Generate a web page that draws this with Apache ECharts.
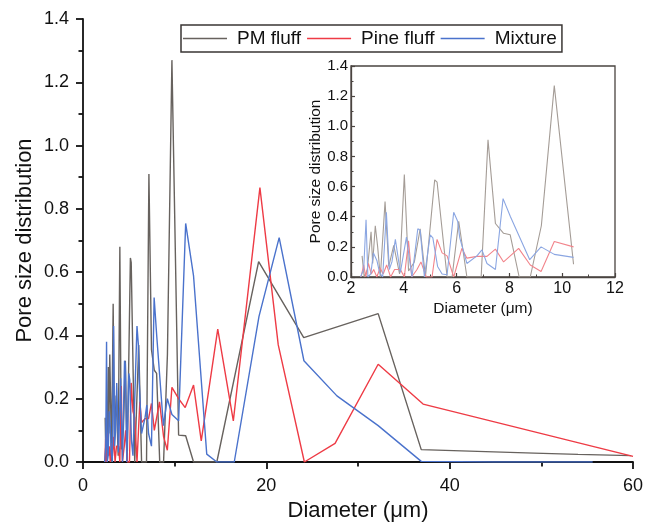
<!DOCTYPE html>
<html>
<head>
<meta charset="utf-8">
<script src="https://cdn.jsdelivr.net/npm/echarts@6/dist/echarts.min.js"></script>
<style>
html,body{margin:0;padding:0;background:#fff;}
#c{width:656px;height:527px;}
</style>
</head>
<body>
<div id="c"></div>
<script>
// Diameter (μm) / pore size distribution values
var pmX = [2.42, 2.5, 2.62, 2.76, 2.82, 2.92, 3.01, 3.11, 3.29, 3.43, 3.62, 3.84, 4.02, 4.18, 4.4, 4.62, 4.82, 5.17, 5.26, 5.64, 5.83, 6.08, 6.39, 6.93, 7.19, 7.47, 7.78, 8.03, 8.37, 8.79, 9.21, 9.70, 10.43, 11.2, 12.06, 14.6, 19.16, 24.08, 32.2, 36.9, 44.8, 49.2, 54.0, 59.8];
var pmY = [0.14, 0.0, 0.05, 0.30, 0.09, 0.34, 0.20, 0.0, 0.50, 0.07, 0.21, 0.02, 0.68, 0.04, 0.10, 0.32, 0.0, 0.645, 0.63, 0.0, 0.0, 0.37, 0.0, 0.0, 0.91, 0.355, 0.29, 0.28, 0.0, 0.0, 0.34, 1.27, 0.085, 0.083, 0.0, 0.0, 0.633, 0.393, 0.469, 0.039, 0.032, 0.028, 0.024, 0.02];

var pineX = [2.38, 2.48, 2.56, 2.66, 2.77, 2.86, 2.98, 3.1, 3.22, 3.35, 3.5, 3.65, 3.87, 4.02, 4.18, 4.3, 4.5, 4.65, 4.85, 5.07, 5.26, 5.45, 5.64, 5.89, 6.2, 6.39, 6.77, 7.15, 7.47, 7.78, 8.35, 8.79, 9.2, 9.7, 10.43, 11.15, 12.06, 12.9, 14.7, 16.4, 19.3, 21.3, 24.15, 27.5, 32.2, 37.1, 60];
var pineY = [0.0, 0.08, 0.0, 0.09, 0.02, 0.05, 0.0, 0.06, 0.02, 0.08, 0.0, 0.05, 0.05, 0.0, 0.24, 0.0, 0.05, 0.1, 0.0, 0.0, 0.25, 0.16, 0.14, 0.0, 0.19, 0.125, 0.137, 0.137, 0.185, 0.10, 0.19, 0.08, 0.037, 0.236, 0.20, 0.172, 0.243, 0.067, 0.42, 0.13, 0.867, 0.37, 0.0, 0.059, 0.309, 0.183, 0.018];

var mixX = [2.36, 2.48, 2.57, 2.64, 2.75, 2.85, 2.98, 3.08, 3.2, 3.34, 3.45, 3.55, 3.68, 3.87, 4.1, 4.31, 4.53, 4.62, 4.78, 5.0, 5.1, 5.28, 5.45, 5.64, 5.89, 6.04, 6.12, 6.39, 6.77, 6.96, 7.15, 7.47, 7.76, 8.04, 8.77, 9.2, 9.7, 10.43, 11.2, 12.06, 13.5, 14.6, 16.5, 19.2, 21.4, 24.1, 27.7, 32.2, 36.9, 44.8, 55.6];
var mixY = [0.0, 0.05, 0.38, 0.0, 0.02, 0.16, 0.11, 0.03, 0.0, 0.43, 0.05, 0.10, 0.25, 0.03, 0.265, 0.0, 0.32, 0.31, 0.0, 0.28, 0.26, 0.07, 0.02, 0.015, 0.43, 0.37, 0.26, 0.09, 0.14, 0.18, 0.09, 0.05, 0.52, 0.40, 0.115, 0.20, 0.15, 0.13, 0.754, 0.588, 0.025, 0.0, 0.0, 0.46, 0.709, 0.32, 0.209, 0.115, 0.002, 0.0, 0.0];

// the inset only shows the fine-pore part of each curve
var insetMaxDiameter = 10.43;

var seriesNames = ['PM fluff', 'Pine fluff', 'Mixture'];
var xTitle = 'Diameter (μm)';
var yTitle = 'Pore size distribution';

function pairs(xs, ys) { return xs.map(function (x, i) { return [x, ys[i]]; }); }

var FONT = "'Liberation Sans', Arial, sans-serif";
var mainColors = ['#67625e', '#ee3b45', '#4a72cc'];
var insetColors = ['#a49c96', '#f2848b', '#8ba6e2'];
var dataSets = [pairs(pmX, pmY), pairs(pineX, pineY), pairs(mixX, mixY)];

var series = [];
for (var i = 0; i < 3; i++) {
  series.push({
    name: seriesNames[i], type: 'line', xAxisIndex: 0, yAxisIndex: 0,
    data: dataSets[i], symbol: 'none', silent: true, animation: false,
    lineStyle: { color: mainColors[i], width: 1.4 }, itemStyle: { color: mainColors[i] }
  });
}
for (var j = 0; j < 3; j++) {
  series.push({
    name: seriesNames[j] + ' (inset)', type: 'line', xAxisIndex: 1, yAxisIndex: 1,
    data: dataSets[j].filter(function (p) { return p[0] <= insetMaxDiameter; }),
    symbol: 'none', silent: true, animation: false,
    lineStyle: { color: insetColors[j], width: 1.1 }, itemStyle: { color: insetColors[j] }
  });
}

var chart = echarts.init(document.getElementById('c'), null, { renderer: 'canvas' });
chart.setOption({
  backgroundColor: '#fff',
  animation: false,
  textStyle: { fontFamily: FONT },
  legend: {
    data: seriesNames,
    left: 181, top: 25,
    icon: 'rect', itemWidth: 44, itemHeight: 1.6, itemGap: 6,
    padding: [4, 5, 4, 2],
    borderColor: '#3a3634', borderWidth: 1.5,
    textStyle: { fontFamily: FONT, fontSize: 19, color: '#111', padding: [0, 0, 0, 5] },
    selectedMode: false
  },
  grid: [
    { left: 83, right: 23, top: 19, bottom: 64, containLabel: false },
    { left: 351, right: 41, top: 66, bottom: 250, show: true, borderColor: '#4a4440', borderWidth: 1.3, backgroundColor: 'transparent' }
  ],
  xAxis: [
    {
      gridIndex: 0, type: 'value', min: 0, max: 60, interval: 20,
      name: xTitle, nameLocation: 'middle', nameGap: 38, nameMoveOverlap: false,
      nameTextStyle: { fontFamily: FONT, fontSize: 22, color: '#111' },
      axisLine: { show: true, onZero: false, lineStyle: { color: '#111', width: 1.8 } },
      axisTick: { show: true, inside: false, length: 7, lineStyle: { color: '#111', width: 1.8 } },
      minorTick: { show: true, splitNumber: 2, length: 4.5, lineStyle: { color: '#111', width: 1.8 } },
      axisLabel: { fontFamily: FONT, fontSize: 18, color: '#111', margin: 15 },
      splitLine: { show: false }
    },
    {
      gridIndex: 1, type: 'value', min: 2, max: 12, interval: 2,
      name: xTitle, nameLocation: 'middle', nameGap: 24, nameMoveOverlap: false,
      nameTextStyle: { fontFamily: FONT, fontSize: 15.5, color: '#111' },
      axisLine: { show: true, onZero: false, lineStyle: { color: '#4a4440', width: 1.3 } },
      axisTick: { show: true, inside: true, length: 4, lineStyle: { color: '#4a4440', width: 1.2 } },
      minorTick: { show: true, splitNumber: 2, length: 2.5, lineStyle: { color: '#4a4440', width: 1 } },
      axisLabel: { fontFamily: FONT, fontSize: 16, color: '#111', margin: 4 },
      splitLine: { show: false }
    }
  ],
  yAxis: [
    {
      gridIndex: 0, type: 'value', min: 0, max: 1.4, interval: 0.2,
      name: yTitle, nameLocation: 'middle', nameGap: 47, nameRotate: 90, nameMoveOverlap: false,
      nameTextStyle: { fontFamily: FONT, fontSize: 22, color: '#111' },
      axisLine: { show: true, onZero: false, lineStyle: { color: '#111', width: 1.8 } },
      axisTick: { show: true, inside: false, length: 7, lineStyle: { color: '#111', width: 1.8 } },
      minorTick: { show: true, splitNumber: 2, length: 4.5, lineStyle: { color: '#111', width: 1.8 } },
      axisLabel: { fontFamily: FONT, fontSize: 18, color: '#111', margin: 14, formatter: function (v) { return v.toFixed(1); } },
      splitLine: { show: false }
    },
    {
      gridIndex: 1, type: 'value', min: 0, max: 1.4, interval: 0.2,
      name: yTitle, nameLocation: 'middle', nameGap: 27, nameRotate: 90, nameMoveOverlap: false,
      nameTextStyle: { fontFamily: FONT, fontSize: 15.5, color: '#111' },
      axisLine: { show: true, onZero: false, lineStyle: { color: '#4a4440', width: 1.3 } },
      axisTick: { show: true, inside: true, length: 4, lineStyle: { color: '#4a4440', width: 1.2 } },
      minorTick: { show: true, splitNumber: 2, length: 2.5, lineStyle: { color: '#4a4440', width: 1 } },
      axisLabel: { fontFamily: FONT, fontSize: 15, color: '#111', margin: 3, formatter: function (v) { return v.toFixed(1); } },
      splitLine: { show: false }
    }
  ],
  series: series
});
</script>
</body>
</html>
